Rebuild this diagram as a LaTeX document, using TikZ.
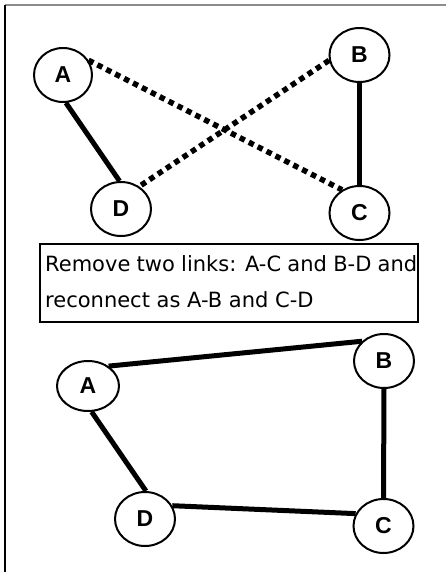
\documentclass[tikz,border=0pt]{standalone}
\usepackage{fontspec}
\setmainfont{DejaVu Sans}
\newfontfamily\labelfont{Liberation Sans}
\usetikzlibrary{shapes.geometric}
\tikzset{
  vertex/.style={ellipse, draw, line width=2pt, inner sep=0pt,
    minimum width=60pt, minimum height=54pt,
    font=\labelfont\bfseries\fontsize{23}{23}\selectfont},
  link/.style={line width=5pt},
  oldlink/.style={line width=5.5pt, dash pattern=on 5.5pt off 4.5pt},
  frameline/.style={line width=1.5pt},
}
\begin{document}
\begin{tikzpicture}[x=1pt,y=-1pt]
\useasboundingbox (0,0) rectangle (446,574);
% page frame (top and left edges only)
\draw[frameline, black!45] (5,5) -- (446,5);
\draw[frameline] (5,5) -- (5,572);

% before the exchange
\node[vertex, minimum width=58pt] (A1) at (63,75) {A};
\node[vertex] (B1) at (359.5,55) {B};
\node[vertex] (D1) at (121,209) {D};
\node[vertex] (C1) at (359.5,213) {C};
\draw[link] (A1.-84) -- (D1.93);
\draw[link] (B1.-90) -- (C1.90);
\draw[oldlink] (A1.30) -- (C1.127);
\draw[oldlink] (B1.190) -- (D1.51);

% explanation
\node[draw, line width=1.5pt, minimum width=378pt, minimum height=78pt,
      inner sep=0pt] (note) at (229,283) {};
\node[text width=372pt, align=justify, inner sep=0pt, anchor=north west,
      font=\fontsize{21}{36}\selectfont] (notetext) at (45,255)
  {Remove two links: A-C and B-D and\linebreak reconnect as A-B and C-D\par};

% after the exchange
\node[vertex, minimum width=62pt, minimum height=50pt] (A2) at (88,386) {A};
\node[vertex] (B2) at (384,361) {B};
\node[vertex] (D2) at (145,519) {D};
\node[vertex] (C2) at (383.5,526) {C};
\draw[link] (A2.44) -- (B2.138);
\draw[link] (A2.-82) -- (D2.88);
\draw[link] (D2.26) -- (C2.156);
\draw[link] (B2.-90) -- (C2.90);
\end{tikzpicture}
\end{document}
